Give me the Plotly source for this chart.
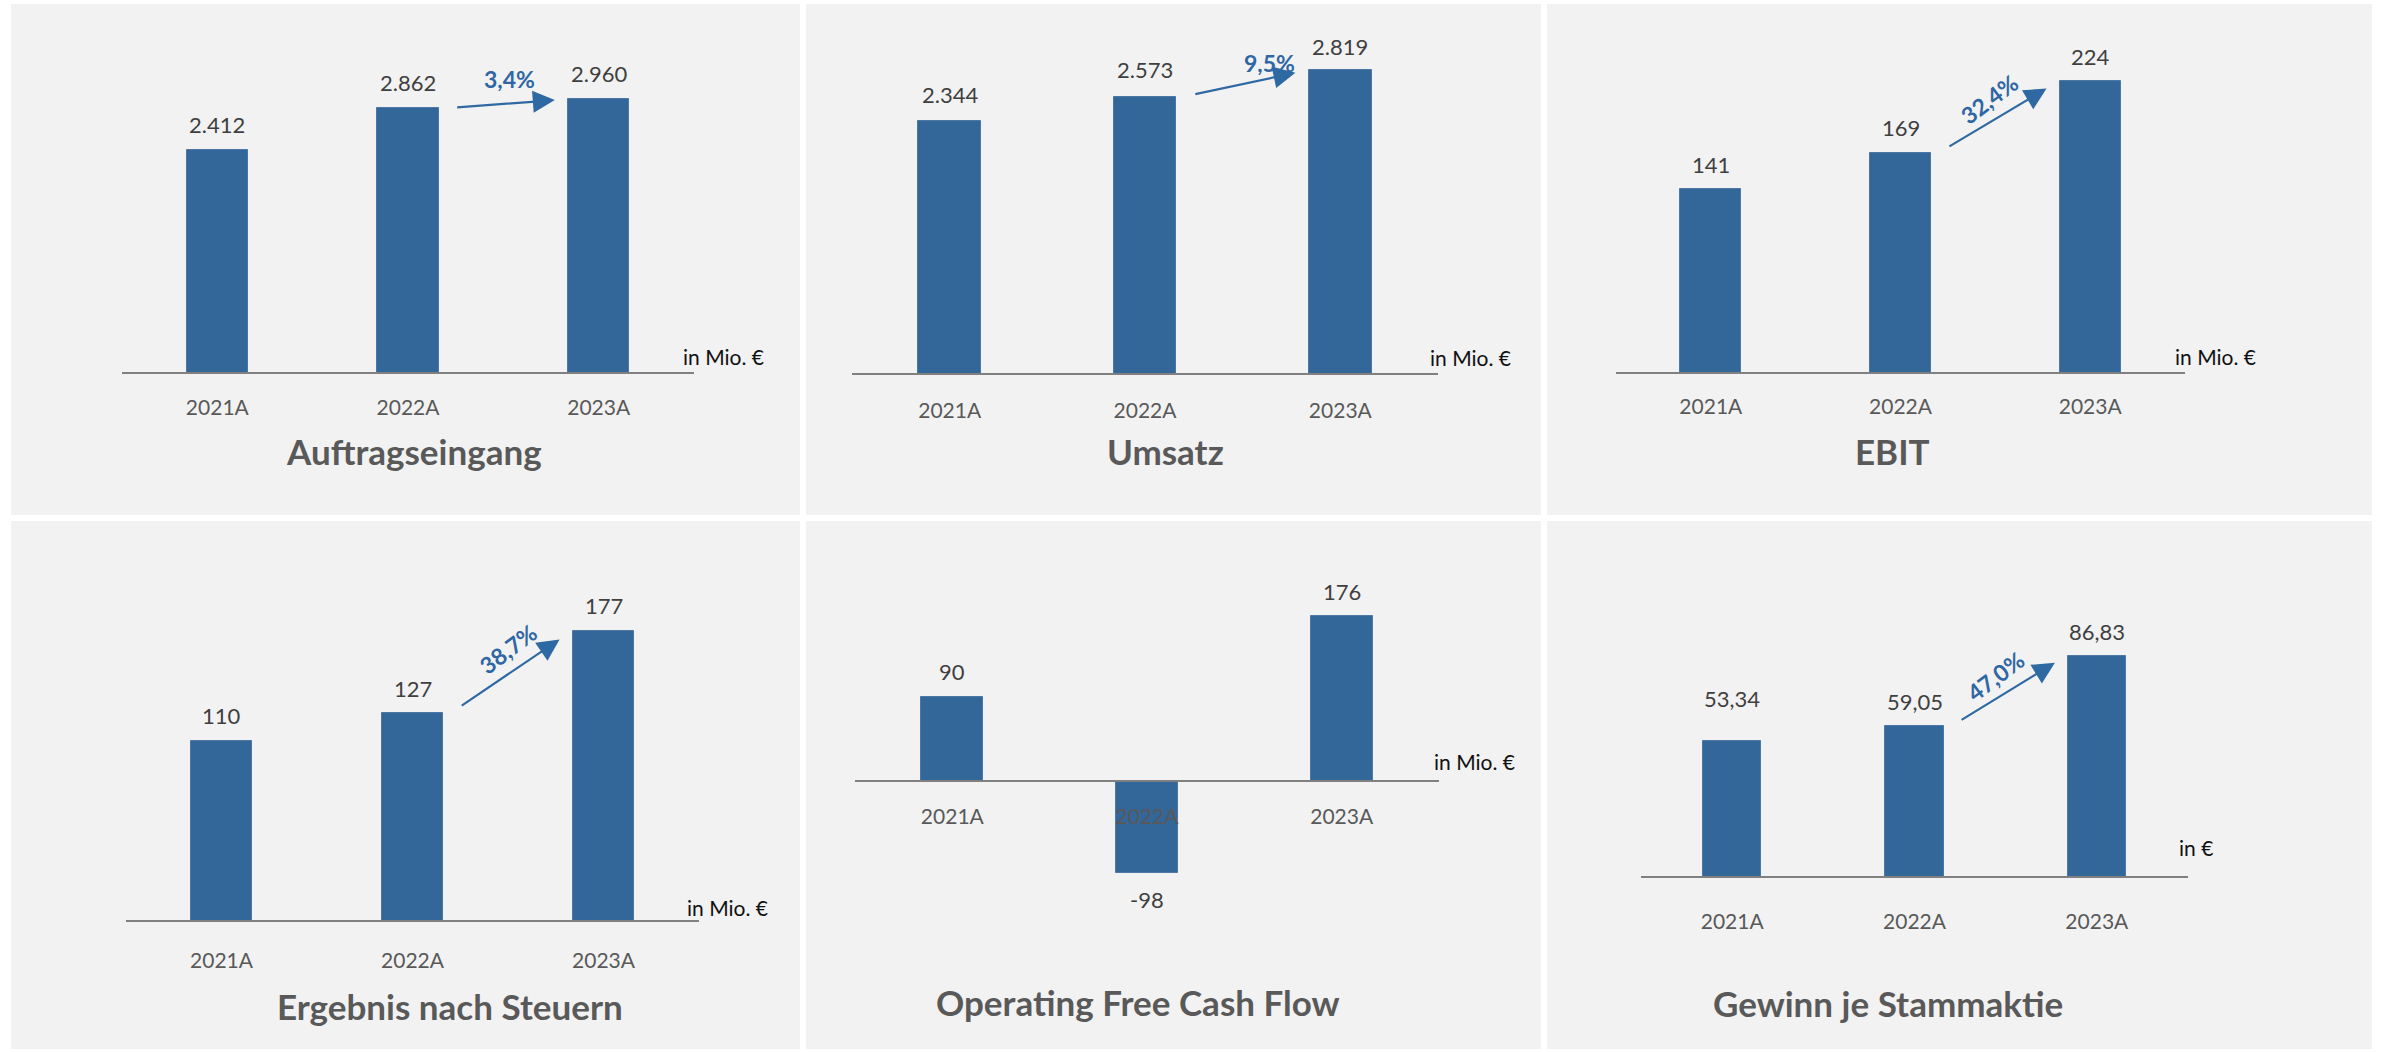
import plotly.graph_objects as go

W, H = 2382, 1052

# ---------------- data ----------------
categories = ["2021A", "2022A", "2023A"]
titles = ["Auftragseingang", "Umsatz", "EBIT",
          "Ergebnis nach Steuern", "Operating Free Cash Flow", "Gewinn je Stammaktie"]
auftragseingang = [2412, 2862, 2960]
umsatz = [2344, 2573, 2819]
ebit = [141, 169, 224]
ergebnis_nach_steuern = [110, 127, 177]
operating_fcf = [90, -98, 176]
gewinn_je_stammaktie = [53.34, 59.05, 86.83]
growth_labels = ["3,4%", "9,5%", "32,4%", "38,7%", None, "47,0%"]
unit_labels = ["in Mio. €", "in Mio. €", "in Mio. €", "in Mio. €", "in Mio. €", "in €"]
series = [auftragseingang, umsatz, ebit, ergebnis_nach_steuern, operating_fcf, gewinn_je_stammaktie]
decimals = [0, 0, 0, 0, 0, 2]


def fmt_de(v, d):
    if d == 0:
        return f"{v:,.0f}".replace(",", ".")
    return f"{v:,.{d}f}".replace(",", "X").replace(".", ",").replace("X", ".")


# ---------------- styles / geometry (pixels) ----------------
BAR = "#336699"
ARROW = "#2F69A3"
GROWTH = "#2E67A3"
VAL = "#3F3F3F"
TICK = "#595959"
TITLE = "#595959"
FONT = "Lato"

panel_rects = [  # x0, x1, y0, y1
    (11, 800, 4, 515), (806, 1541, 4, 515), (1547, 2372, 4, 515),
    (11, 800, 521, 1049), (806, 1541, 521, 1049), (1547, 2372, 521, 1049),
]

geo = [
    dict(L=122, R=694, B=373, s=0.0925, T=14, Bot=373, tl=16, unit=(681, 356), title=(414, 451),
         lab=[25, 25.5, 25.5], gshift=(4, 25), rot=0),
    dict(L=852, R=1438, B=374, s=0.1078, T=14, Bot=374, tl=18, unit=(1428, 358), title=(1165, 451),
         lab=[27, 27, 24], gshift=(25, 21), rot=0),
    dict(L=1616, R=2185, B=373, s=1.302, T=14, Bot=373, tl=15, unit=(2173, 356), title=(1892, 451),
         lab=[25, 25, 25], gshift=(-8, 19), rot=-37),
    dict(L=126, R=699, B=921, s=1.637, T=535, Bot=921, tl=21, unit=(685, 907), title=(450, 1006),
         lab=[25, 25, 26], gshift=(-2, 24), rot=-37),
    dict(L=855, R=1439, B=781, s=0.935, T=535, Bot=960, tl=17, unit=(1432, 761), title=(1138, 1002),
         lab=[25, -27, 25], gshift=(0, 0), rot=0),
    dict(L=1641, R=2188, B=877, s=2.55, T=535, Bot=877, tl=26, unit=(2177, 847), title=(1888, 1003),
         lab=[42, 25, 24], gshift=(-12, 16), rot=-37),
]

fig = go.Figure()
shapes = []
annotations = []

for (x0, x1, y0, y1) in panel_rects:
    shapes.append(dict(type="rect", xref="paper", yref="paper",
                       x0=x0 / W, x1=x1 / W, y0=1 - y1 / H, y1=1 - y0 / H,
                       fillcolor="#F2F2F2", line=dict(width=0), layer="below"))

layout_axes = {}
for i, (vals, g) in enumerate(zip(series, geo)):
    n = i + 1
    xa = "x" if n == 1 else f"x{n}"
    ya = "y" if n == 1 else f"y{n}"
    xkey = "xaxis" if n == 1 else f"xaxis{n}"
    ykey = "yaxis" if n == 1 else f"yaxis{n}"

    fig.add_trace(go.Bar(x=categories, y=vals, xaxis=xa, yaxis=ya, width=0.32,
                         marker=dict(color=BAR, line=dict(color="#4D78A6", width=1)),
                         hoverinfo="skip", showlegend=False))

    y_lo = -(g["Bot"] - g["B"]) / g["s"]
    y_hi = (g["B"] - g["T"]) / g["s"]
    layout_axes[xkey] = dict(domain=[g["L"] / W, g["R"] / W], range=[-0.5, 2.5], type="category",
                             anchor="free", position=1 - g["B"] / H,
                             showline=True, linecolor="#808080", linewidth=2,
                             ticks="outside", ticklen=g["tl"], tickcolor="rgba(0,0,0,0)",
                             tickfont=dict(family=FONT, size=21, color=TICK),
                             showgrid=False, zeroline=False, fixedrange=True)
    layout_axes[ykey] = dict(domain=[1 - g["Bot"] / H, 1 - g["T"] / H], range=[y_lo, y_hi],
                             visible=False, anchor=xa, fixedrange=True)

    # value labels
    for j, v in enumerate(vals):
        annotations.append(dict(x=j, y=v, xref=xa, yref=ya, text=fmt_de(v, decimals[i]),
                                showarrow=False, yshift=g["lab"][j], yanchor="middle",
                                font=dict(family=FONT, size=22, color=VAL)))

    # growth arrow + label
    if growth_labels[i]:
        t_y = vals[1] + 0.08 * (vals[2] - vals[1])
        h_y = vals[1] + 0.90 * (vals[2] - vals[1])
        t_x, h_x = 1.25, 1.77
        annotations.append(dict(x=h_x, y=h_y, ax=t_x, ay=t_y, xref=xa, yref=ya, axref=xa, ayref=ya,
                                text="", showarrow=True, arrowhead=2, arrowsize=2,
                                arrowwidth=2.2, arrowcolor=ARROW, standoff=0, startstandoff=0))
        annotations.append(dict(x=(t_x + h_x) / 2, y=(t_y + h_y) / 2, xref=xa, yref=ya,
                                text=f"<b>{growth_labels[i]}</b>", showarrow=False,
                                xshift=g["gshift"][0], yshift=g["gshift"][1],
                                textangle=g["rot"], xanchor="center", yanchor="middle",
                                font=dict(family=FONT, size=23, color=GROWTH)))

    # unit
    annotations.append(dict(x=g["unit"][0] / W, y=1 - g["unit"][1] / H, xref="paper", yref="paper",
                            text=unit_labels[i], showarrow=False, xanchor="left", yanchor="middle",
                            font=dict(family=FONT, size=21, color="#111111")))
    # title
    annotations.append(dict(x=g["title"][0] / W, y=1 - g["title"][1] / H, xref="paper", yref="paper",
                            text=f"<b>{titles[i]}</b>", showarrow=False, xanchor="center",
                            yanchor="middle", font=dict(family=FONT, size=35, color=TITLE)))

fig.update_layout(width=W, height=H, margin=dict(l=0, r=0, t=0, b=0),
                  paper_bgcolor="white", plot_bgcolor="rgba(0,0,0,0)",
                  shapes=shapes, annotations=annotations, showlegend=False,
                  bargap=0, **layout_axes)

fig.write_html("out.html", config=dict(displayModeBar=False),
               post_script="document.body.style.margin='0';document.body.style.overflow='hidden';")
